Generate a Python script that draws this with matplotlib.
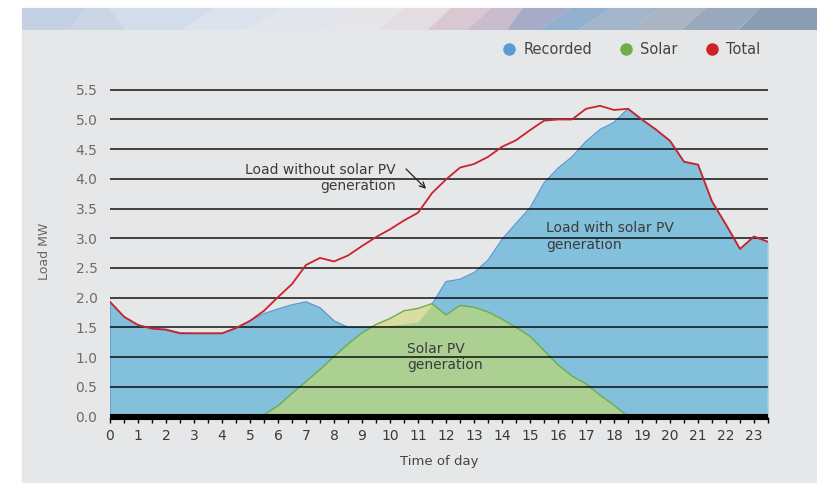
import numpy as np
import matplotlib.pyplot as plt
from matplotlib.patches import Rectangle, Polygon
from matplotlib.lines import Line2D

# half-hourly readings, 00:00 to 23:30
hours = np.arange(48) * 0.5

recorded = [1.93, 1.68, 1.54, 1.48, 1.47, 1.41, 1.40, 1.40, 1.40, 1.48,
            1.61, 1.73, 1.81, 1.88, 1.93, 1.83, 1.61, 1.50, 1.50, 1.51,
            1.53, 1.56, 1.59, 1.89, 2.27, 2.31, 2.42, 2.63, 2.98, 3.25,
            3.51, 3.93, 4.18, 4.37, 4.63, 4.83, 4.95, 5.18, 4.99, 4.83,
            4.64, 4.28, 4.24, 3.62, 3.23, 2.82, 3.03, 2.94]

solar = [0, 0, 0, 0, 0, 0, 0, 0, 0, 0,
         0, 0.03, 0.18, 0.39, 0.59, 0.79, 1.01, 1.22, 1.41, 1.55,
         1.65, 1.78, 1.82, 1.90, 1.71, 1.87, 1.84, 1.76, 1.64, 1.50,
         1.35, 1.11, 0.87, 0.68, 0.55, 0.36, 0.19, 0, 0, 0,
         0, 0, 0, 0, 0, 0, 0, 0]

total = [1.93, 1.68, 1.54, 1.48, 1.46, 1.40, 1.40, 1.40, 1.40, 1.49,
         1.61, 1.78, 2.01, 2.23, 2.55, 2.67, 2.61, 2.71, 2.87, 3.02,
         3.15, 3.30, 3.43, 3.76, 3.99, 4.19, 4.25, 4.37, 4.54, 4.65,
         4.82, 4.98, 5.00, 5.00, 5.18, 5.23, 5.16, 5.18, 5.00, 4.83,
         4.64, 4.29, 4.24, 3.62, 3.23, 2.82, 3.03, 2.94]

series_names = ['Recorded', 'Solar', 'Total']
series_colors = ['#5b9bd5', '#70ad47', '#cc2229']

hour_ticks = np.arange(24)
y_ticks = np.arange(0, 5.51, 0.5)

W, H = 817, 483
fig = plt.figure(figsize=(W / 100, H / 100), dpi=100)
fig.patch.set_facecolor('white')

# grey panel behind everything
fig.patches.append(Rectangle((22 / W, 0), 1 - 22 / W, 1 - 8 / H,
                             transform=fig.transFigure, color='#e6e7e9', zorder=-10))

# mosaic banner along the top
band = fig.add_axes([22 / W, 1 - 30 / H, 1 - 22 / W, 22 / H])
band.set_xlim(0, 1)
band.set_ylim(0, 1)
band.axis('off')
tiles = [(0.00, 0.00, '#c4d1e4'), (0.06, 0.08, '#cad5e6'), (0.13, 0.11, '#d3dcea'),
         (0.20, 0.24, '#dbe2ec'), (0.28, 0.33, '#e2e6ec'), (0.38, 0.42, '#e6e6e8'),
         (0.45, 0.48, '#e3dde2'), (0.51, 0.54, '#d9c8d2'), (0.56, 0.59, '#c8bccd'),
         (0.61, 0.63, '#a8abc8'), (0.65, 0.69, '#93b0cf'), (0.70, 0.74, '#a3b5ca'),
         (0.77, 0.80, '#aab4c2'), (0.83, 0.86, '#98a9bd'), (0.90, 0.93, '#8a9db3'),
         (1.00, 1.00, None)]
for (x0b, x0t, c), (x1b, x1t, _) in zip(tiles[:-1], tiles[1:]):
    band.add_patch(Polygon([(x0b, 0), (x1b, 0), (x1t, 1), (x0t, 1)],
                           closed=True, color=c, lw=0))

ax = fig.add_axes([110 / W, 66.5 / H, 658 / W, (416.5 - 86.8) / H])
ax.set_facecolor('none')

rec = np.array(recorded)
sol = np.array(solar)

ax.fill_between(hours, 0, rec, color='#82c0dc', lw=0, zorder=1)
ax.plot(hours, rec, color=series_colors[0], lw=1.0, zorder=1.2)
ax.plot([hours[0], hours[0]], [0, rec[0]], color=series_colors[0], lw=1.2, zorder=1.2)
ax.plot([hours[-1], hours[-1]], [0, rec[-1]], color='#9ccbe4', lw=1.2, zorder=1.2)

ax.fill_between(hours, 0, sol, color='#abd092', lw=0, zorder=1.3)
ax.fill_between(hours, rec, sol, where=sol > rec, interpolate=True,
                color='#d9dea0', lw=0, zorder=1.35)
sol_edge = (sol > 0) | (np.roll(sol, 1) > 0) | (np.roll(sol, -1) > 0)
ax.plot(hours, np.where(sol_edge, sol, np.nan), color=series_colors[1], lw=1.0, zorder=1.4)

ax.plot(hours, total, color=series_colors[2], lw=1.3, zorder=3)

for yv in y_ticks[1:]:
    ax.axhline(yv, color='black', lw=1.4, alpha=0.72, zorder=2)

ax.set_xlim(0, 23.5)
ax.set_ylim(0, 5.55)
ax.set_xticks(hour_ticks)
ax.set_xticks(np.arange(0, 23.51, 0.5), minor=True)
ax.set_yticks(y_ticks)
ax.set_yticklabels([f'{v:.1f}' for v in y_ticks])
ax.tick_params(axis='y', length=0, pad=9, labelsize=10, labelcolor='#6e6b68')
ax.tick_params(axis='x', which='both', length=4, width=1, color='black',
               pad=5, labelsize=10, labelcolor='#3a3a3a')

for s in ['top', 'right', 'left']:
    ax.spines[s].set_visible(False)
ax.spines['bottom'].set_linewidth(4.4)
ax.spines['bottom'].set_color('black')
ax.spines['bottom'].set_capstyle('butt')
ax.spines['bottom'].set_zorder(4)

ax.set_xlabel('Time of day', fontsize=9.5, color='#444444', labelpad=9)
ax.set_ylabel('Load MW', fontsize=9, color='#666666', labelpad=18)

txt = dict(fontsize=10, color='#3b3b3b', zorder=5)
ax.text(10.21, 4.01, 'Load without solar PV\ngeneration', ha='right', va='center',
        multialignment='right', **txt)
ax.annotate('', xy=(11.36, 3.80), xytext=(10.5, 4.2),
            arrowprops=dict(arrowstyle='->', color='#222222', lw=0.9))
ax.text(15.57, 3.03, 'Load with solar PV\ngeneration', ha='left', va='center', **txt)
ax.text(10.6, 1.0, 'Solar PV\ngeneration', ha='left', va='center', **txt)

handles = [Line2D([], [], ls='', marker='o', markersize=8, color=c) for c in series_colors]
fig.legend(handles, series_names, loc='center right', bbox_to_anchor=(773 / W, 1 - 50 / H),
           ncol=3, frameon=False, fontsize=10.5, labelcolor='#444444',
           handletextpad=0.45, columnspacing=1.85, handlelength=1.0)

fig.savefig('out.png', dpi=100, facecolor=fig.get_facecolor())
